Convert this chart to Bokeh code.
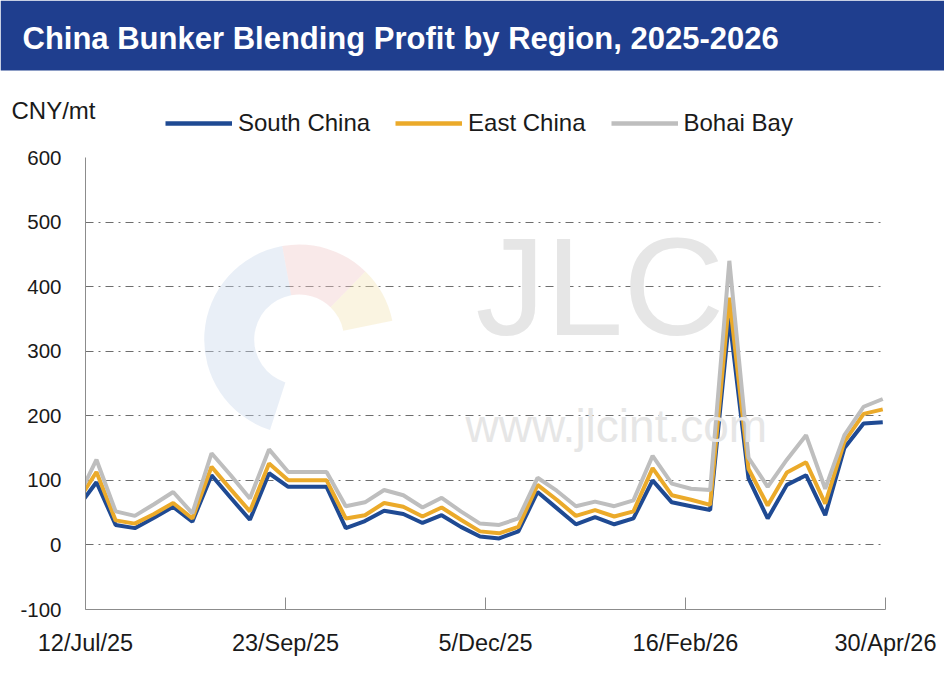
import pandas as pd
from bokeh.plotting import figure
from bokeh.models import Range1d, FixedTicker, Legend, LegendItem, Label
from bokeh.core.properties import value
from bokeh.embed import file_html
from bokeh.resources import INLINE

# ---------------- data ----------------
dates = pd.date_range("2025-07-09", periods=43, freq="7D")
south_china = [57, 97, 31, 26, 42, 59, 36, 108, 73, 39, 111, 90, 90, 90, 26, 37, 53, 48, 34, 46,
               28, 13, 10, 21, 82, 57, 32, 43, 32, 41, 100, 66, 60, 54, 352, 103, 41, 93, 108, 46,
               150, 188, 190]
east_china = [66, 113, 38, 33, 48, 65, 41, 121, 86, 52, 126, 100, 100, 100, 41, 46, 65, 59, 44, 58,
              39, 21, 18, 28, 93, 70, 45, 54, 44, 52, 119, 77, 70, 62, 383, 118, 61, 112, 128, 64,
              160, 203, 210]
bohai_bay = [71, 132, 52, 45, 63, 82, 49, 142, 108, 72, 148, 113, 113, 113, 60, 66, 85, 77, 58, 73,
             52, 33, 31, 41, 104, 84, 60, 67, 60, 69, 138, 95, 87, 85, 440, 135, 90, 132, 170, 87,
             170, 214, 226]
series_names = ["South China", "East China", "Bohai Bay"]
tick_dates = ["2025-07-12", "2025-09-23", "2025-12-05", "2026-02-16", "2026-04-30"]
tick_labels = ["12/Jul/25", "23/Sep/25", "5/Dec/25", "16/Feb/26", "30/Apr/26"]
y_ticks = [-100, 0, 100, 200, 300, 400, 500, 600]
title_text = "China Bunker Blending Profit by Region, 2025-2026"
unit_text = "CNY/mt"

FONT = "Liberation Sans"
C_SOUTH = "#1F4A93"
C_EAST = "#EBAA2A"
C_BOHAI = "#BEBEBE"
C_BAR = "#1F3E8E"
TXT = "#1A1A1A"

W = 944
HEAD_H = 145

# ---------------- header (title bar, unit, legend) ----------------
h = figure(width=W, height=HEAD_H, output_backend="svg", toolbar_location=None,
           x_range=Range1d(0, W), y_range=Range1d(HEAD_H, 0),
           min_border=0, x_axis_location=None, y_axis_location=None,
           background_fill_color="white", border_fill_color="white")
h.grid.visible = False
h.outline_line_color = None
h.quad(left=[0], right=[W], top=[0], bottom=[70], fill_color=C_BAR, line_color=None)
h.text(x=[22], y=[38], text=[title_text], text_font=value(FONT), text_font_style="bold",
       text_font_size="31px", text_color="white", text_baseline="middle")
h.text(x=[11], y=[110], text=[unit_text], text_font=value(FONT),
       text_font_size="24px", text_color=TXT, text_baseline="middle")

off = [-50, -40]
lr_s = h.line(off, off, line_color=C_SOUTH, line_width=4.5)
lr_e = h.line(off, off, line_color=C_EAST, line_width=4.5)
lr_b = h.line(off, off, line_color=C_BOHAI, line_width=4.5)
legend = Legend(items=[LegendItem(label=series_names[0], renderers=[lr_s]),
                       LegendItem(label=series_names[1], renderers=[lr_e]),
                       LegendItem(label=series_names[2], renderers=[lr_b])],
                orientation="horizontal", location=(165, 8),
                glyph_width=67, glyph_height=24, label_standoff=6, spacing=25,
                label_text_font=FONT, label_text_font_size="24px", label_text_color=TXT,
                background_fill_alpha=0, border_line_color=None, padding=0, margin=0)
h.add_layout(legend, "center")

# ---------------- main chart ----------------
tick_ms = [pd.Timestamp(d).value / 1e6 for d in tick_dates]

p = figure(width=W, height=684 - HEAD_H, output_backend="svg", toolbar_location=None,
           x_axis_type="datetime",
           x_range=Range1d(start=pd.Timestamp(tick_dates[0]), end=pd.Timestamp(tick_dates[-1])),
           y_range=Range1d(-100, 600),
           min_border_left=85, min_border_right=59, min_border_top=157 - HEAD_H,
           min_border_bottom=75,
           background_fill_color="white", border_fill_color="white")
p.outline_line_color = None

p.xaxis.ticker = FixedTicker(ticks=tick_ms)
p.xaxis.major_label_overrides = {t: l for t, l in zip(tick_ms, tick_labels)}
p.xaxis.major_tick_in = 12
p.xaxis.major_tick_out = 0
p.xaxis.minor_tick_line_color = None
p.xaxis.axis_line_color = "#8C8C8C"
p.xaxis.major_tick_line_color = "#8C8C8C"
p.xaxis.major_label_text_font = FONT
p.xaxis.major_label_text_font_size = "23.5px"
p.xaxis.major_label_text_color = TXT
p.xaxis.major_label_standoff = 20

p.yaxis.ticker = FixedTicker(ticks=y_ticks)
p.yaxis.major_label_overrides = {t: str(t) for t in y_ticks}
p.yaxis.major_tick_line_color = None
p.yaxis.minor_tick_line_color = None
p.yaxis.axis_line_color = "#8C8C8C"
p.yaxis.major_label_text_font = FONT
p.yaxis.major_label_text_font_size = "20.5px"
p.yaxis.major_label_text_color = TXT
p.yaxis.major_label_standoff = 18

p.xgrid.grid_line_color = None
p.ygrid.grid_line_color = "#6E6E6E"
p.ygrid.grid_line_dash = "8 5 2 5"
p.ygrid.grid_line_width = 1

# watermark (logo arcs + text)
logo_x = pd.Timestamp("2025-09-28")
p.annular_wedge(x=[logo_x] * 3, y=[318] * 3, inner_radius=45, outer_radius=95,
                start_angle=[1.75, 0.8, 0.2], end_angle=[4.4, 1.75, 0.8],
                inner_radius_units="screen", outer_radius_units="screen",
                fill_color=["#C9D6EA", "#F0C9C9", "#F3E3B5"], fill_alpha=0.4, line_color=None)
p.add_layout(Label(x=390, y=245, x_units="screen", y_units="screen", text="JLC",
                   text_font=FONT, text_font_size="140px", text_color="#E6E6E6"))
p.add_layout(Label(x=380, y=158, x_units="screen", y_units="screen", text="www.jlcint.com",
                   text_font=FONT, text_font_size="46px", text_color="#E6E6E6"))

p.line(dates, south_china, line_color=C_SOUTH, line_width=4)
p.line(dates, east_china, line_color=C_EAST, line_width=4)
p.line(dates, bohai_bay, line_color=C_BOHAI, line_width=4)

open("out.html", "w").write(file_html([h, p], INLINE))
